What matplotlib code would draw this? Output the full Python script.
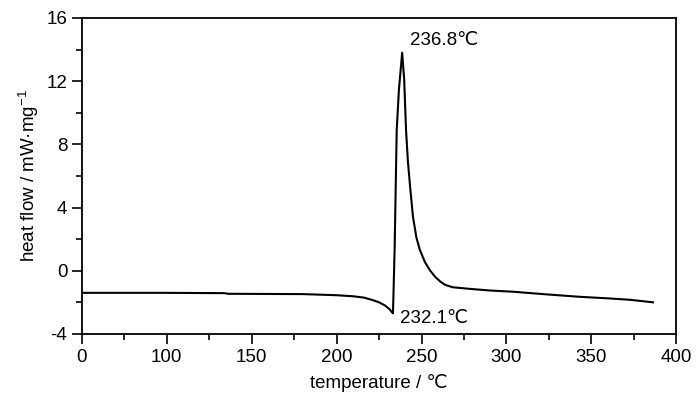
#!/usr/bin/env python3
"""DSC curve: heat flow vs temperature with onset and peak annotations."""

import matplotlib

matplotlib.use("Agg")
import matplotlib.pyplot as plt
from matplotlib.ticker import MultipleLocator

# ── data ─────────────────────────────────────────────────────────────────────
temperature = [
    50, 100, 134, 136, 180, 200, 210, 216, 221, 225, 228.5, 231, 233.2,
    234.2, 235.4, 236.7, 238.6, 239.8, 240.9, 242, 243.3, 245, 247, 249,
    252, 255, 258, 261, 264, 268.6, 278.6, 290, 304, 324, 343, 360, 372.8,
    386.3,
]
heat_flow = [
    -1.40, -1.40, -1.42, -1.46, -1.48, -1.55, -1.62, -1.70, -1.85, -2.00,
    -2.20, -2.42, -2.70,
    1.5, 8.9, 11.45, 13.8, 12.1, 8.9, 6.9, 5.3, 3.4, 2.1, 1.33,
    0.55, 0.02, -0.38, -0.68, -0.90, -1.05, -1.15, -1.25, -1.33, -1.50,
    -1.65, -1.75, -1.84, -2.00,
]

x_ticks = [50, 100, 150, 200, 250, 300, 350, 400]
x_tick_labels = ["0", "100", "150", "200", "250", "300", "350", "400"]
y_ticks = [-4, 0, 4, 8, 12, 16]

peak_label = "236.8℃"
onset_label = "232.1℃"


def main() -> None:
    plt.rcParams["font.family"] = ["Liberation Sans", "DejaVu Sans"]
    plt.rcParams["mathtext.fontset"] = "custom"
    plt.rcParams["mathtext.rm"] = "Liberation Sans"
    plt.rcParams["axes.unicode_minus"] = False

    fig = plt.figure(figsize=(7.0, 3.98), dpi=100)
    ax = fig.add_axes([0.117, 0.161, 0.849, 0.794])

    ax.plot(temperature, heat_flow, color="black", linewidth=1.5)

    ax.set_xlim(50, 400)
    ax.set_ylim(-4, 16)
    ax.set_xticks(x_ticks)
    ax.set_xticklabels(x_tick_labels)
    ax.set_yticks(y_ticks)
    ax.xaxis.set_minor_locator(MultipleLocator(25))
    ax.yaxis.set_minor_locator(MultipleLocator(2))

    ax.tick_params(which="both", direction="out", top=False, right=False, width=1.2)
    ax.tick_params(which="major", length=7, labelsize=13.5)
    ax.tick_params(which="minor", length=4)
    for spine in ax.spines.values():
        spine.set_linewidth(1.3)

    ax.text(243.2, 14.6, peak_label, fontsize=13.5, ha="left", va="center")
    ax.text(237.3, -3.0, onset_label, fontsize=13.5, ha="left", va="center")

    ax.set_xlabel("temperature / ℃", fontsize=13.5, labelpad=6)
    ax.set_ylabel(r"heat flow / mW·mg$^{\mathregular{-1}}$", fontsize=13.5)

    fig.savefig("out.png", dpi=100)
    plt.close(fig)


if __name__ == "__main__":
    main()
